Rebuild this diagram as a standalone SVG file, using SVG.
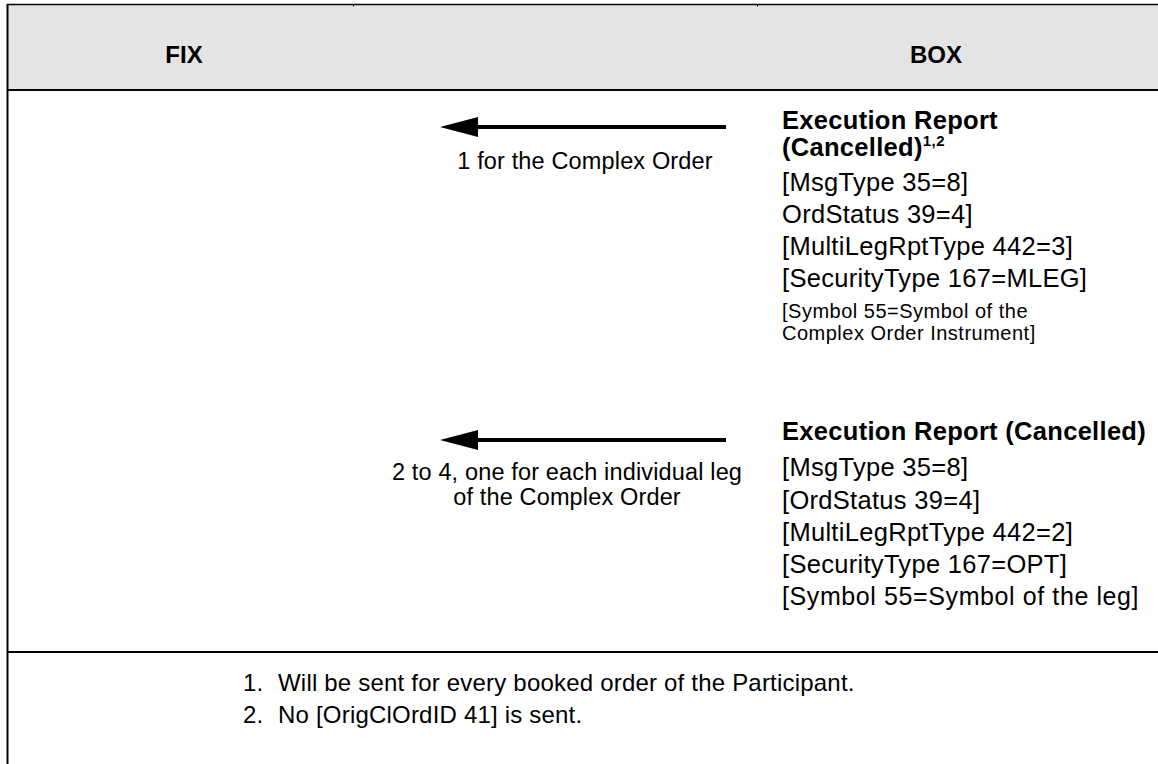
<svg xmlns="http://www.w3.org/2000/svg" width="1158" height="764" viewBox="0 0 1158 764">
<defs>
<style>
text{font-family:"Liberation Sans",Arial,sans-serif;fill:#000}
.h{font-weight:bold;font-size:24px}
.b{font-weight:bold;font-size:25.5px;letter-spacing:0.3px}
.r{font-size:25.5px;letter-spacing:0.3px}
.s{font-size:20px;letter-spacing:0.5px}
.s2{font-size:25px;letter-spacing:0.6px}
.l{font-size:23.5px;letter-spacing:0.15px}
.f{font-size:24px;letter-spacing:0.2px}
.ln{stroke:#000;fill:none}
</style>
</defs>
<rect x="8" y="5" width="1150" height="85" fill="#e4e4e4"/>
<g id="frame">
<line class="ln" x1="7" y1="4.5" x2="1158" y2="4.5" stroke-width="1.5"/>
<line class="ln" x1="7.5" y1="4" x2="7.5" y2="764" stroke-width="2"/>
<line class="ln" x1="7" y1="90" x2="1158" y2="90" stroke-width="2"/>
<line class="ln" x1="7" y1="652" x2="1158" y2="652" stroke-width="2"/>
<line class="ln" x1="353.5" y1="5" x2="353.5" y2="6.5" stroke-width="1"/>
<line class="ln" x1="757.5" y1="5" x2="757.5" y2="6.5" stroke-width="1"/>
</g>
<g id="fix"><text class="h" x="184" y="63" text-anchor="middle">FIX</text></g>
<g id="box"><text class="h" x="936" y="63" text-anchor="middle">BOX</text></g>
<g id="connectors">
<line class="ln" x1="726" y1="127" x2="476" y2="127" stroke-width="4"/>
<polygon points="440,127 478,117 478,137"/>
<line class="ln" x1="726" y1="440" x2="476" y2="440" stroke-width="4"/>
<polygon points="440,440 478,430 478,450"/>
</g>
<g id="label1"><text class="l" x="585" y="169" text-anchor="middle">1 for the Complex Order</text></g>
<g id="label2">
<text class="l" x="567" y="480" text-anchor="middle">2 to 4, one for each individual leg</text>
<text class="l" x="567" y="505" text-anchor="middle">of the Complex Order</text>
</g>
<g id="msg1">
<text class="b" x="782" y="129">Execution Report</text>
<text class="b" x="782" y="156">(Cancelled)<tspan font-size="15px" letter-spacing="0.5px" dy="-10">1,2</tspan></text>
<text class="r" x="782" y="191">[MsgType 35=8]</text>
<text class="r" x="782" y="223">OrdStatus 39=4]</text>
<text class="r" x="782" y="255">[MultiLegRptType 442=3]</text>
<text class="r" x="782" y="287">[SecurityType 167=MLEG]</text>
<text class="s" x="782" y="318">[Symbol 55=Symbol of the</text>
<text class="s" x="782" y="340">Complex Order Instrument]</text>
</g>
<g id="msg2">
<text class="b" x="782" y="440">Execution Report (Cancelled)</text>
<text class="r" x="782" y="476">[MsgType 35=8]</text>
<text class="r" x="782" y="509">[OrdStatus 39=4]</text>
<text class="r" x="782" y="541">[MultiLegRptType 442=2]</text>
<text class="r" x="782" y="573">[SecurityType 167=OPT]</text>
<text class="s2" x="782" y="605">[Symbol 55=Symbol of the leg]</text>
</g>
<g id="notes">
<text class="f" x="243" y="691">1.</text>
<text class="f" x="278" y="691">Will be sent for every booked order of the Participant.</text>
<text class="f" x="243" y="723">2.</text>
<text class="f" x="278" y="723">No [OrigClOrdID 41] is sent.</text>
</g>
</svg>
